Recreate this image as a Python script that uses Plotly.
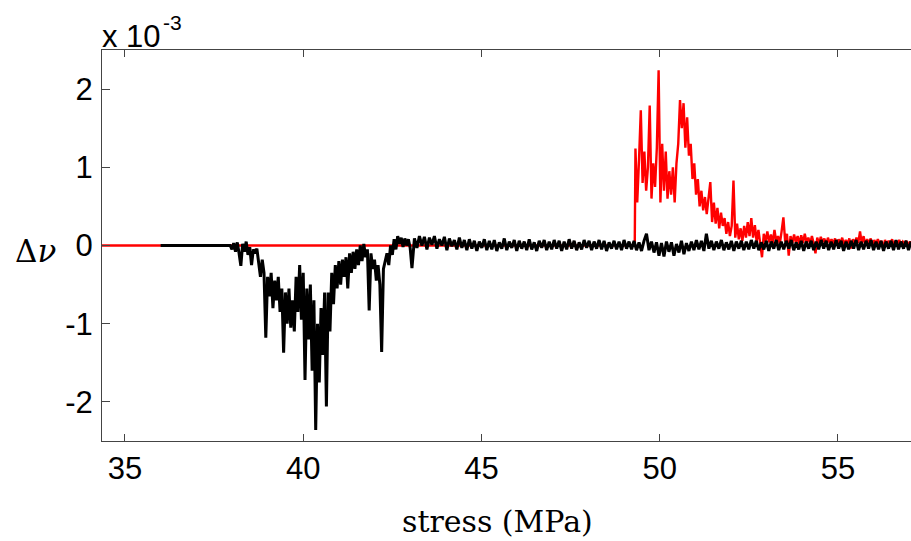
import numpy as np
import plotly.graph_objects as go

# ---------------- data (values in units of 1e-3) ----------------
# red series: flat zero then noisy burst after ~49.3 MPa
red_flat_x = [34.0, 49.30]
red_flat_y = [0.0, 0.0]
red_start, red_step = 49.32, 0.05
red_vals = [
    1.24, 0.55, 1.10, 1.73, 0.80, 1.20, 0.70, 1.00, 1.79, 0.60,
    1.05, 0.75, 1.25, 2.24, 0.55, 1.30, 0.70, 1.20, 0.60, 0.95,
    0.65, 1.00, 0.55, 1.05, 1.30, 1.86, 1.50, 1.82, 1.25, 1.64,
    1.15, 1.30, 0.85, 1.05, 0.65, 0.85, 0.50, 0.70, 0.45, 0.62,
    0.40, 0.58, 0.81, 0.30, 0.55, 0.28, 0.48, 0.22, 0.42, 0.25,
    0.35, 0.15, 0.30, 0.12, 0.25, 0.83, 0.10, 0.28, 0.08, 0.22,
    0.06, 0.25, 0.10, 0.30, 0.12, 0.35, 0.10, 0.26, 0.05, 0.20,
    0.04, -0.15, 0.15, 0.05, 0.18, 0.04, 0.14, 0.03, 0.20, 0.05,
    0.12, 0.02, 0.18, 0.36, 0.05, 0.15, -0.13, 0.12, 0.03, 0.14,
    0.04, 0.12, 0.02, 0.13, 0.03, 0.15, 0.04, 0.10, 0.02, 0.12,
    0.03, -0.10, 0.10, 0.02, 0.11, 0.04, 0.09, 0.01, 0.10, 0.03,
    0.08, 0.02, 0.09, 0.00, 0.08, 0.03, 0.10, 0.01, 0.07, 0.02,
    0.09, -0.04, 0.08, 0.02, 0.10, 0.03, 0.18, 0.02, 0.12, 0.01,
    0.08, 0.03, 0.09, 0.00, 0.07, 0.02, 0.08, 0.01, 0.06, -0.03,
    0.07, 0.02, 0.06, 0.01, 0.08, 0.00, 0.06, 0.02, 0.07, 0.01,
    0.05, 0.02, 0.06, 0.00, 0.05, 0.01,
]

# black series: flat zero, then dip region, then quiet noise
black_flat_x = [36.0, 37.90]
black_flat_y = [0.0, 0.0]
black_a_start, black_a_step = 37.95, 0.05
black_a_vals = [
    0.00, -0.05, 0.03, -0.08, 0.04, -0.10, -0.26, 0.02, -0.08, 0.05,
    -0.12, -0.02, -0.25, -0.05, -0.10, -0.04, -0.20, -0.40, -0.18, -0.35,
    -1.18, -0.40, -0.65, -0.35, -0.80, -0.45, -0.70, -0.40, -0.85, -0.55,
    -1.37, -0.60, -1.00, -0.55, -1.05, -0.70, -1.10, -0.40, -0.85, -0.25,
    -0.95, -0.35, -1.72, -0.55, -1.20, -0.50, -1.60, -0.70, -2.36, -1.00,
    -1.75, -0.80, -1.40, -0.60, -2.06, -0.60, -1.10, -0.35, -0.75, -0.25,
    -0.55, -0.20, -0.50, -0.18, -0.40, -0.15, -0.55, -0.10, -0.35, -0.08,
    -0.30, -0.05, -0.25, 0.00, -0.20, 0.02, -0.15, -0.05, -0.83, -0.10,
    -0.30, -0.18, -0.45, -0.25, -0.50, -1.36, -0.30, -0.20, -0.10, -0.25,
    0.00, -0.12, 0.08, -0.05, 0.12, 0.02, 0.10, -0.02, 0.09, 0.00,
    0.08, -0.03,
]
black_q_start, black_q_step = 43.05, 0.07
black_q_vals = [
    -0.29, 0.09, -0.03, 0.12, 0.00, 0.11, -0.05, 0.10, 0.01, 0.12,
    -0.04, 0.08, 0.00, 0.11, -0.06, 0.09, -0.01, 0.07, -0.05, 0.10,
    -0.03, 0.07, -0.06, 0.08, -0.04, 0.06, -0.07, 0.05, -0.03, 0.08,
    -0.06, 0.06, -0.05, 0.07, -0.07, 0.04, -0.04, 0.09, -0.06, 0.05,
    -0.03, 0.07, -0.07, 0.06, -0.04, 0.05, -0.06, 0.08, -0.05, 0.04,
    -0.07, 0.06, -0.03, 0.07, -0.06, 0.05, -0.05, 0.07, -0.04, 0.06,
    -0.07, 0.05, -0.05, 0.08, -0.04, 0.06, -0.06, 0.04, -0.05, 0.07,
    -0.03, 0.06, -0.06, 0.05, -0.04, 0.07, -0.05, 0.06, -0.07, 0.04,
    -0.04, 0.06, -0.05, 0.05, -0.06, 0.07, -0.04, 0.05, -0.05, 0.06,
    -0.06, 0.04, -0.07, 0.06, 0.15, -0.06, 0.05, -0.09, 0.04, -0.13,
    0.03, -0.14, 0.05, -0.08, 0.04, -0.13, 0.02, -0.09, 0.06, -0.11,
    0.03, -0.07, 0.05, -0.06, 0.07, -0.05, 0.06, -0.07, 0.15, -0.04,
    0.06, -0.06, 0.05, -0.04, 0.07, -0.06, 0.04, -0.05, 0.06, -0.07,
    0.05, -0.04, 0.06, -0.06, 0.05, -0.05, 0.07, -0.04, 0.06, -0.06,
    0.04, -0.05, 0.06, -0.07, 0.05, -0.04, 0.07, -0.06, 0.05, -0.05,
    0.06, -0.04, 0.07, -0.06, 0.04, -0.05, 0.06, -0.07, 0.05, -0.04,
    0.06, -0.06, 0.05, -0.05, 0.07, -0.04, 0.06, -0.06, 0.05, -0.05,
    0.07, -0.04, 0.06, -0.07, 0.05, -0.05, 0.06, -0.04, 0.07, -0.06,
    0.05, -0.05, 0.06, -0.04, 0.07, -0.06, 0.05, -0.05, 0.06, -0.07,
    0.05, -0.04, 0.06, -0.06, 0.07, -0.05, 0.05, -0.04, 0.06, -0.06,
    0.05,
]

x_ticks = [35, 40, 45, 50, 55]
y_ticks = [-2, -1, 0, 1, 2]
y_ticklabels = ["-2", "-1", "0", "1", "2"]
x_range = [34.355, 57.05]
y_range = [-2.5, 2.5]

# ---------------- build traces ----------------
red_x = list(red_flat_x) + [red_start + red_step * i for i in range(len(red_vals))]
red_y = list(red_flat_y) + red_vals
black_x = (list(black_flat_x)
           + [black_a_start + black_a_step * i for i in range(len(black_a_vals))]
           + [black_q_start + black_q_step * i for i in range(len(black_q_vals))])
black_y = list(black_flat_y) + black_a_vals + black_q_vals

fig = go.Figure()
fig.add_trace(go.Scatter(x=red_x, y=red_y, mode="lines",
                         line=dict(color="#ff0000", width=2.4), showlegend=False))
fig.add_trace(go.Scatter(x=black_x, y=black_y, mode="lines",
                         line=dict(color="#000000", width=3), showlegend=False))

axis_col = "#444444"
tick_font = dict(family="Liberation Sans, Arial, sans-serif", size=31, color="black")

fig.update_layout(
    width=911, height=541, autosize=False,
    margin=dict(l=102, r=0, t=50, b=100),
    paper_bgcolor="white", plot_bgcolor="white",
    xaxis=dict(range=x_range, tickvals=x_ticks, ticktext=[str(v) for v in x_ticks],
               ticks="inside", ticklen=7, tickcolor=axis_col, tickwidth=1,
               showline=True, linecolor=axis_col, linewidth=1, mirror="ticks",
               showgrid=False, zeroline=False, tickfont=tick_font,
               ticklabelstandoff=0),
    yaxis=dict(range=y_range, tickvals=y_ticks, ticktext=y_ticklabels,
               ticks="inside", ticklen=8, tickcolor=axis_col, tickwidth=1,
               showline=True, linecolor=axis_col, linewidth=1, mirror=False,
               showgrid=False, zeroline=False, tickfont=tick_font,
               ticklabelstandoff=2),
)

fig.add_annotation(text="x 10", xref="paper", yref="paper",
                   x=0, y=1, xanchor="left", yanchor="bottom", showarrow=False,
                   xshift=-2, yshift=-6,
                   font=dict(family="Liberation Sans, Arial, sans-serif", size=31, color="black"))
fig.add_annotation(text="-3", xref="paper", yref="paper",
                   x=0, y=1, xanchor="left", yanchor="bottom", showarrow=False,
                   xshift=59, yshift=14,
                   font=dict(family="Liberation Sans, Arial, sans-serif", size=21, color="black"))
fig.add_annotation(text="Δ<i>ν</i>", xref="paper", yref="paper",
                   x=0, y=0.5, xanchor="center", yanchor="middle", showarrow=False,
                   xshift=-67, yshift=-5,
                   font=dict(family="DejaVu Serif, serif", size=31, color="black"))
fig.add_annotation(text="stress (MPa)", xref="paper", yref="paper",
                   x=0, y=0, xanchor="center", yanchor="middle", showarrow=False,
                   xshift=395, yshift=-80,
                   font=dict(family="DejaVu Serif, serif", size=30, color="black"))

fig.write_html("out.html")
